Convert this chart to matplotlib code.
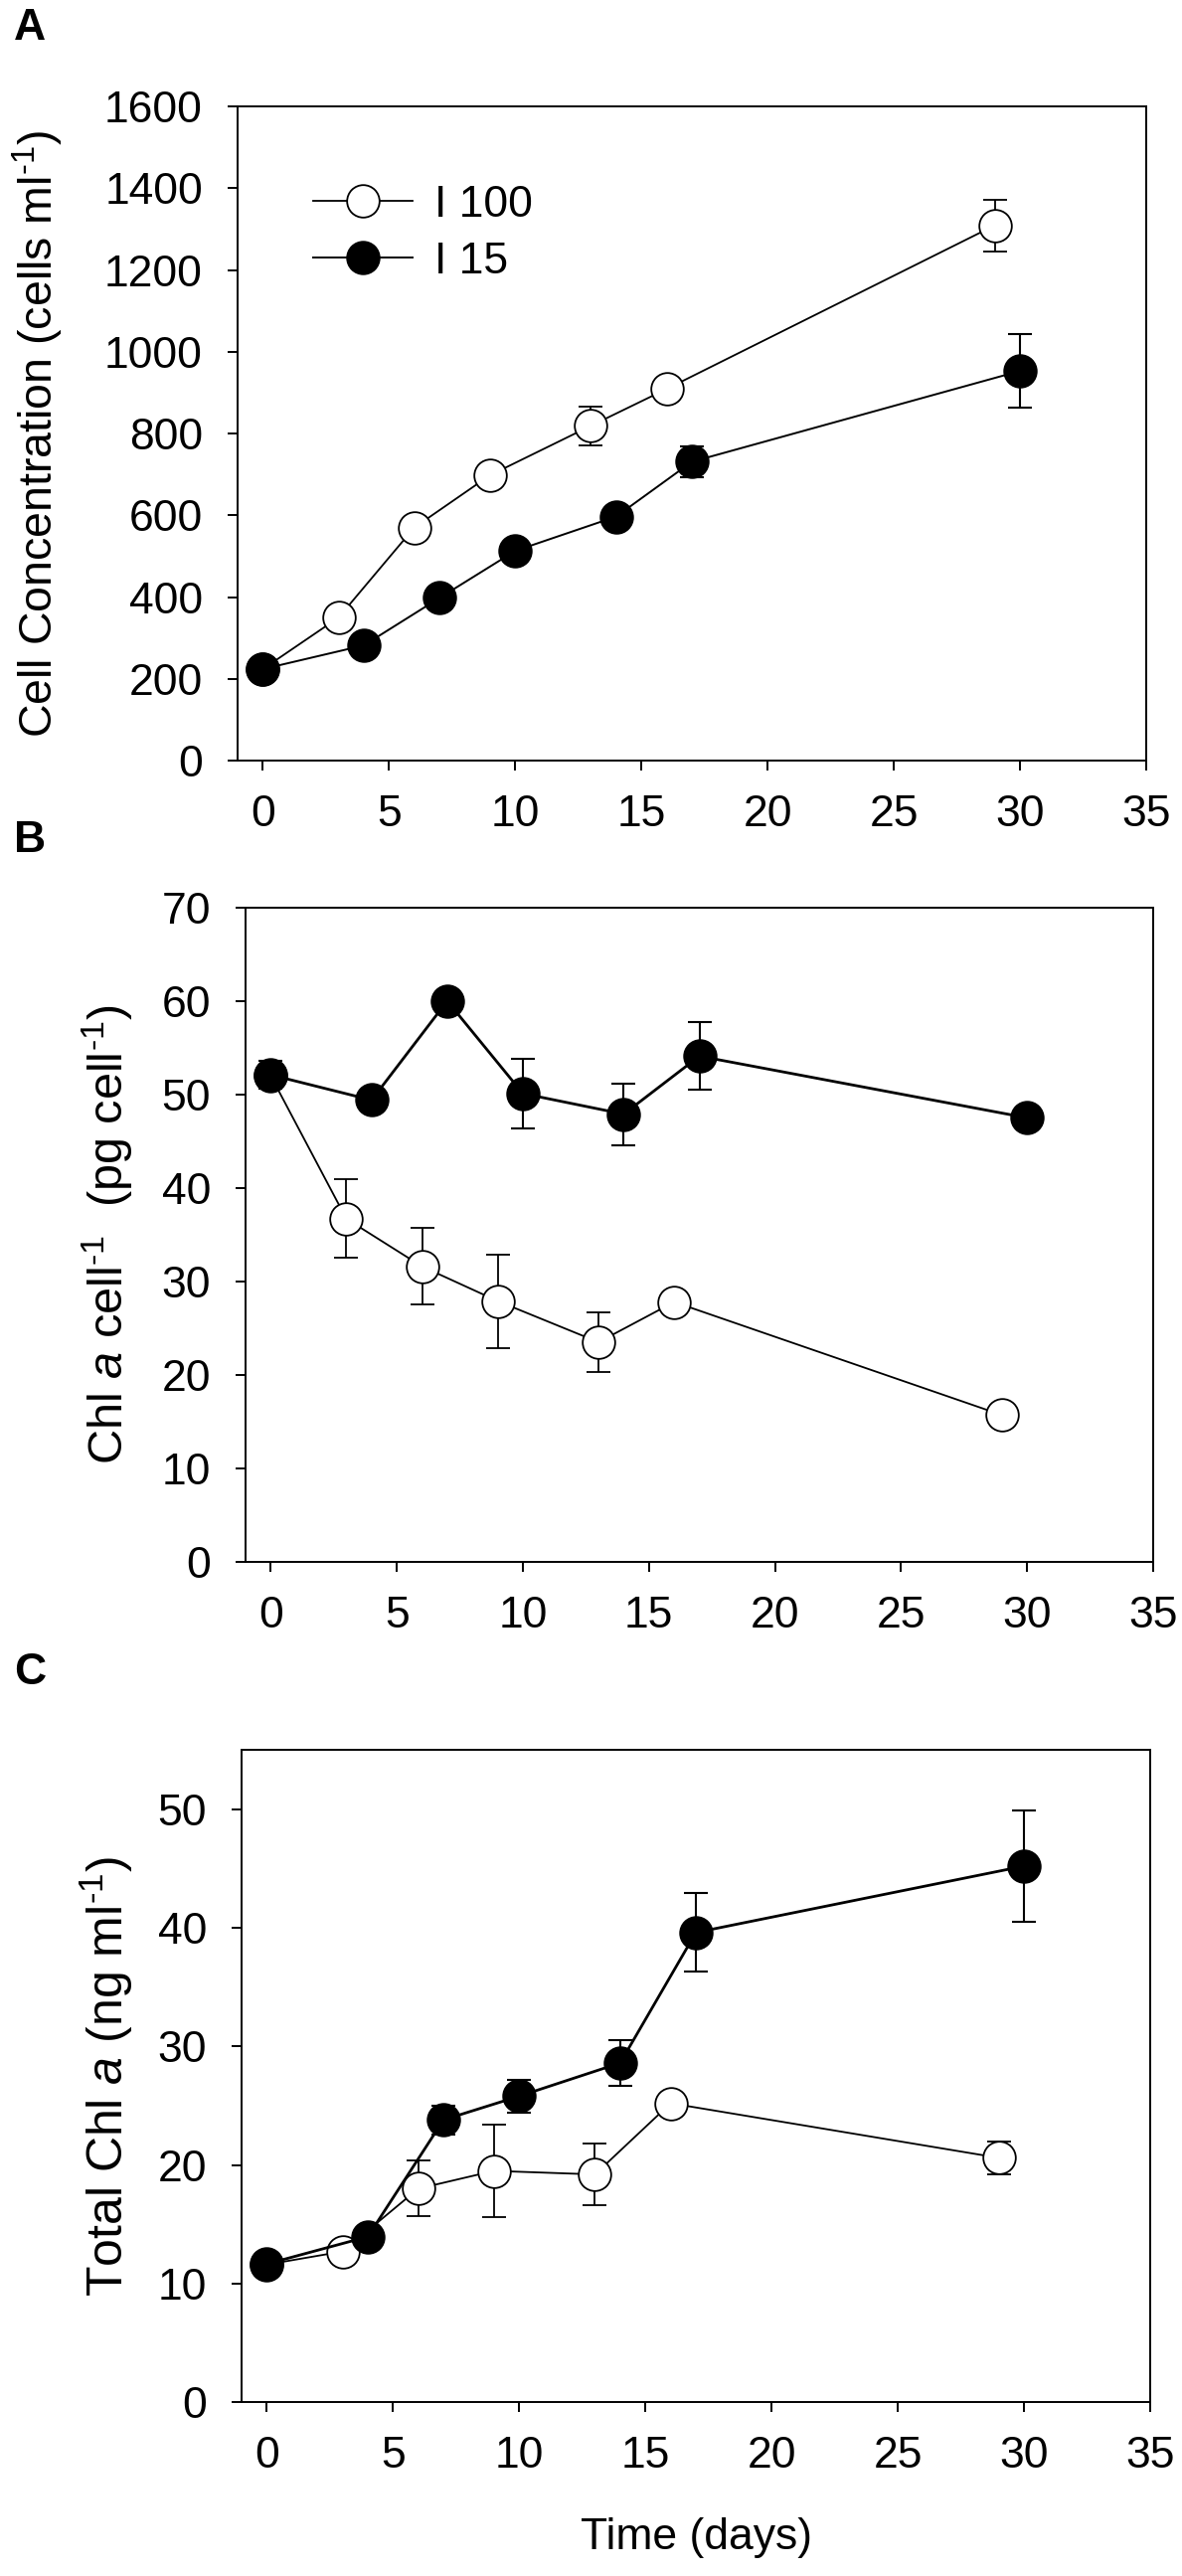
import matplotlib
matplotlib.use("Agg")
import matplotlib.pyplot as plt

plt.rcParams["font.family"] = ["Liberation Sans", "DejaVu Sans"]
plt.rcParams["mathtext.fontset"] = "custom"
plt.rcParams["mathtext.rm"] = "Liberation Sans"
plt.rcParams["mathtext.it"] = "Liberation Sans:italic"
plt.rcParams["mathtext.bf"] = "Liberation Sans:bold"
plt.rcParams["mathtext.default"] = "regular"

# sampling days for the two light treatments
days_100 = [0, 3, 6, 9, 13, 16, 29]
days_15 = [0, 4, 7, 10, 14, 17, 30]

# A: cell concentration (cells ml-1)
cells_100 = [224, 350, 570, 698, 819, 909, 1309]
cells_100_err = [0, 0, 0, 0, 47, 0, 63]
cells_15 = [224, 282, 398, 513, 597, 731, 953]
cells_15_err = [0, 0, 0, 0, 0, 38, 90]

# B: Chl a per cell (pg cell-1)
chl_cell_100 = [52.0, 36.7, 31.6, 27.9, 23.5, 27.8, 15.7]
chl_cell_100_err = [0, 4.2, 4.1, 5.0, 3.2, 0, 0]
chl_cell_15 = [52.1, 49.4, 60.0, 50.1, 47.9, 54.1, 47.5]
chl_cell_15_err = [1.5, 0, 0, 3.7, 3.3, 3.6, 0]

# C: total Chl a (ng ml-1)
total_chl_100 = [11.6, 12.7, 18.0, 19.5, 19.2, 25.2, 20.6]
total_chl_100_err = [0, 0, 2.35, 3.9, 2.6, 0, 1.4]
total_chl_15 = [11.65, 13.95, 23.8, 25.8, 28.6, 39.6, 45.2]
total_chl_15_err = [0, 0, 1.2, 1.4, 1.9, 3.3, 4.7]

labels = ["I 100", "I 15"]
xticks = [0, 5, 10, 15, 20, 25, 30, 35]

FS = 32
MS = 23.5
INV = r"$^{\text{-}1}$"

fig = plt.figure(figsize=(11.89, 25.91), dpi=100)

panels = [
    dict(rect=[0.2010, 0.7047, 0.7687, 0.2540],
         y100=cells_100, e100=cells_100_err, y15=cells_15, e15=cells_15_err,
         ylim=(0, 1600), yticks=range(0, 1601, 200),
         ylabel="Cell Concentration (cells ml" + INV + ")", labx=-0.189, labfs=33.5,
         letter="A", lw15=1.4),
    dict(rect=[0.2077, 0.3937, 0.7680, 0.2540],
         y100=chl_cell_100, e100=chl_cell_100_err, y15=chl_cell_15, e15=chl_cell_15_err,
         ylim=(0, 70), yticks=range(0, 71, 10),
         ylabel=r"Chl $\mathit{a}$ cell" + INV + "  (pg cell" + INV + ")", labx=-0.122, labfs=35,
         letter="B", lw15=2.0),
    dict(rect=[0.2044, 0.0675, 0.7687, 0.2532],
         y100=total_chl_100, e100=total_chl_100_err, y15=total_chl_15, e15=total_chl_15_err,
         ylim=(0, 55), yticks=range(0, 51, 10),
         ylabel=r"Total Chl $\mathit{a}$ (ng ml" + INV + ")", labx=-0.117, labfs=36,
         letter="C", lw15=2.0),
]

letter_y = [29, 845, 1683]

for i, p in enumerate(panels):
    ax = fig.add_axes(p["rect"])
    ax.errorbar(days_100, p["y100"], yerr=p["e100"], fmt="none", ecolor="black",
                elinewidth=1.3, capsize=8.5, capthick=1.3, zorder=2)
    ax.errorbar(days_15, p["y15"], yerr=p["e15"], fmt="none", ecolor="black",
                elinewidth=1.5, capsize=8.5, capthick=1.5, zorder=2)
    ax.plot(days_100, p["y100"], "-o", color="black", lw=1.3, ms=MS,
            mfc="white", mec="black", mew=1.3, zorder=3, label=labels[0])
    ax.plot(days_15, p["y15"], "-o", color="black", lw=p["lw15"], ms=MS,
            mfc="black", mec="black", mew=1.3, zorder=4, label=labels[1])

    ax.set_xlim(-1, 35)
    ax.set_ylim(*p["ylim"])
    ax.set_xticks(xticks)
    ax.set_yticks(list(p["yticks"]))
    ax.tick_params(direction="out", length=7.2, width=1.4, labelsize=FS, pad=17)
    ax.tick_params(axis="y", pad=18)
    for s in ax.spines.values():
        s.set_linewidth(1.4)
    ax.set_ylabel(p["ylabel"], fontsize=p["labfs"])
    ax.yaxis.set_label_coords(p["labx"], 0.5)

    fig.text(30 / 1189, 1 - letter_y[i] / 2591, p["letter"], fontsize=FS,
             fontweight="bold", ha="center", va="center")

    if i == 0:
        ax.legend(loc="upper left", bbox_to_anchor=(0.083, 0.88), frameon=False,
                  fontsize=FS, handlelength=2.25, handletextpad=0.5,
                  labelspacing=0.35, borderpad=0, borderaxespad=0)
    if i == 2:
        ax.set_xlabel("Time (days)", fontsize=FS, labelpad=30)

fig.savefig("out.png", dpi=100)
